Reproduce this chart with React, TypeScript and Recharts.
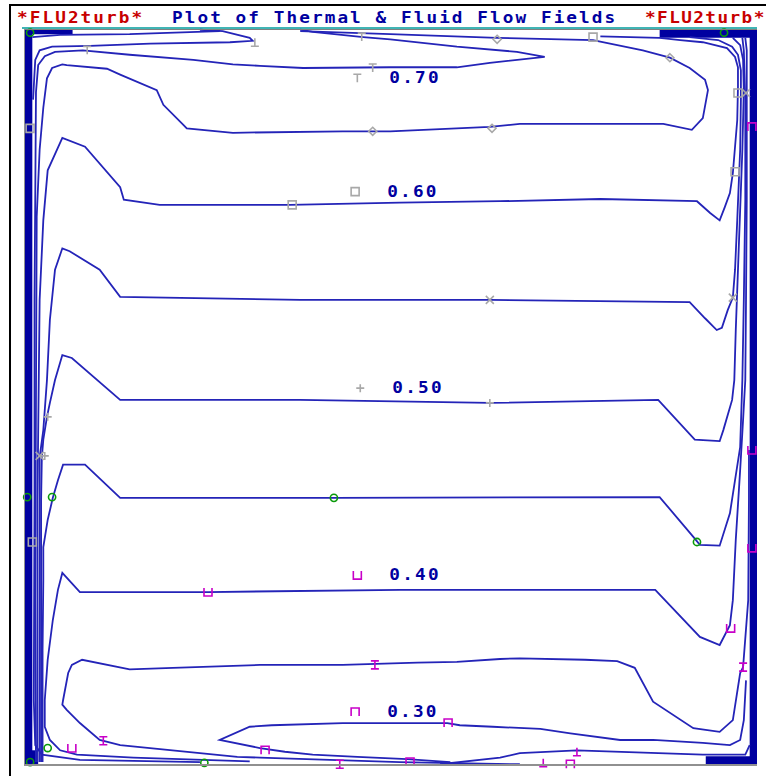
import React from "react";
import { ScatterChart, Scatter, XAxis, YAxis, ReferenceArea } from "recharts";

type Pt = [number, number];

// isotherms, x/y in % of cavity width/height (0,0 = bottom left)
const c75: Pt[] = [[23.9,99.9],[27.0,99.7],[30.7,98.8],[31.1,98.4],[28.0,98.2],[17.1,98.0],[8.9,97.7],[3.7,97.6],[2.0,97.1],[1.4,95.8],[1.1,90.4]];
const c70: Pt[] = [[37.6,99.9],[39.3,99.6],[46.2,98.9],[49.9,98.6],[59.0,97.6],[67.2,96.9],[71.0,96.2],[63.5,95.4],[59.0,94.8],[49.9,94.8],[38.0,94.7],[32.1,95.0],[28.4,95.2],[23.0,95.8],[14.3,96.5],[7.9,97.1],[4.1,96.9],[2.7,96.3],[1.8,95.1],[1.5,91.4],[1.3,63.2],[1.3,36.0],[1.2,8.8],[1.4,2.7],[2.3,1.4],[7.5,0.7],[23.9,0.4]];
const c65: Pt[] = [[1.5,0.4],[1.4,22.4],[1.5,49.6],[1.6,74.5],[2.0,83.6],[2.5,89.3],[3.0,93.3],[3.7,94.7],[5.1,95.2],[5.7,95.1],[11.2,94.6],[13.0,93.8],[18.0,91.7],[18.9,89.7],[21.6,87.0],[22.1,86.5],[28.4,85.9],[43.4,86.1],[49.9,86.1],[63.5,86.7],[67.6,87.1],[87.2,87.1],[91.1,86.3],[92.6,87.9],[93.3,91.7],[92.9,93.1],[90.8,94.7],[88.1,96.1],[84.4,97.1],[77.6,98.5],[64.5,98.8],[49.9,99.3],[37.6,99.7]];
const c60: Pt[] = [[1.7,0.4],[1.7,36.0],[2.0,63.2],[2.5,74.0],[3.1,80.8],[5.1,85.2],[8.2,84.0],[13.0,78.5],[13.5,76.8],[18.4,76.1],[36.2,76.1],[51.2,76.4],[64.9,76.6],[78.6,76.9],[91.8,76.6],[93.6,75.0],[94.9,74.0],[95.6,75.8],[96.3,77.7],[96.7,80.4],[97.3,87.6],[97.4,92.1],[97.4,94.8],[97.0,96.2],[95.9,97.4],[92.6,98.2],[89.5,98.5],[86.7,98.8],[78.6,99.0]];
const c55: Pt[] = [[2.0,0.4],[2.0,22.4],[2.0,41.8],[2.5,45.5],[3.0,52.3],[3.4,60.5],[4.1,67.3],[5.1,70.2],[6.1,69.8],[10.2,67.3],[13.0,63.6],[37.6,63.2],[63.5,63.2],[90.8,62.9],[92.9,60.7],[94.5,59.1],[95.2,59.4],[96.0,61.8],[96.7,63.5],[97.0,67.3],[97.3,74.0],[97.7,83.6],[97.8,90.4],[97.8,94.4],[97.4,96.5],[96.6,97.6],[94.7,98.5],[90.8,98.9]];
const c50: Pt[] = [[2.2,0.4],[2.2,15.6],[2.2,36.0],[2.3,41.8],[2.5,44.2],[3.0,47.3],[3.4,49.2],[4.1,52.3],[5.1,55.7],[6.4,55.3],[13.0,49.6],[37.6,49.6],[63.5,49.2],[86.5,49.6],[91.5,44.2],[94.9,44.0],[95.4,45.5],[96.6,49.6],[96.9,52.3],[97.1,59.1],[97.5,70.0],[98.0,83.6],[98.2,91.7],[98.1,95.8],[97.7,97.8],[96.7,98.8]];
const c45: Pt[] = [[2.4,0.4],[2.4,15.6],[2.5,25.1],[2.5,29.6],[3.1,33.3],[3.8,36.3],[4.5,38.7],[5.2,40.8],[8.2,40.8],[13.0,36.3],[42.2,36.3],[86.7,36.4],[91.3,31.0],[92.2,29.9],[94.9,29.8],[96.3,34.2],[97.0,38.7],[97.7,43.2],[98.0,52.3],[98.2,63.2],[98.4,76.8],[98.4,90.4],[98.2,97.1],[98.0,98.8]];
const c40: Pt[] = [[30.7,0.5],[14.8,1.0],[7.1,1.4],[4.8,2.0],[3.4,3.4],[2.7,5.2],[2.7,8.8],[3.1,14.3],[3.8,19.7],[4.5,23.8],[5.1,26.1],[7.5,23.5],[25.0,23.5],[51.2,23.8],[86.1,23.8],[92.2,17.4],[94.9,16.3],[96.3,19.0],[96.7,22.4],[97.1,30.6],[97.7,40.1],[98.1,46.9],[98.4,52.3],[98.5,63.2],[98.6,76.8],[98.6,90.4],[98.6,97.1],[98.4,98.8]];
const c35: Pt[] = [[67.6,0.1],[51.2,0.4],[32.1,1.0],[29.0,1.1],[13.0,2.7],[10.2,3.4],[7.5,5.7],[5.7,7.5],[5.1,8.2],[5.2,8.8],[5.9,12.5],[6.4,13.6],[7.8,14.3],[14.3,13.0],[20.2,13.2],[32.1,13.6],[43.4,13.6],[53.6,13.9],[59.0,14.0],[64.9,14.4],[67.6,14.5],[76.5,14.3],[80.9,14.1],[83.3,13.2],[85.8,8.6],[91.3,5.0],[94.9,4.5],[96.7,6.1],[97.7,12.5],[98.1,13.3],[98.8,22.4],[98.9,36.0],[98.9,42.8]];
const c30: Pt[] = [[58.1,0.4],[52.2,0.8],[45.4,1.1],[39.3,1.4],[35.5,1.8],[32.1,2.3],[26.6,3.4],[30.7,5.2],[33.7,5.4],[43.4,5.7],[57.7,5.7],[59.4,5.4],[63.9,5.2],[70.4,4.9],[74.5,4.3],[81.3,3.4],[85.8,3.4],[92.6,3.0],[96.3,2.7],[97.7,3.4],[98.2,6.1],[98.5,11.5]];
const c25: Pt[] = [[56.7,0.1],[64.9,1.0],[67.6,1.6],[75.4,2.0],[92.6,1.4],[98.4,1.4],[99.0,2.7]];
const topWall: Pt[] = [[1.0,98.9],[4.8,99.2],[14.3,99.3],[26.6,99.7]];

const contours = [c75, c70, c65, c60, c55, c50, c45, c40, c35, c30, c25, topWall];

// contour markers
const grayT: Pt[] = [[46.0,98.9],[47.5,94.7],[8.5,97.1]];
const grayInvT: Pt[] = [[31.4,98.2]];
const grayDiamond: Pt[] = [[47.5,86.1],[63.8,86.5],[88.1,96.1],[64.5,98.6]];
const graySquare: Pt[] = [[36.5,76.1],[97.0,80.6],[77.6,98.9],[97.4,91.3],[0.7,86.5],[1.0,30.3]];
const grayCross: Pt[] = [[63.5,63.2],[96.7,63.5],[2.0,42.0],[98.5,91.3]];
const grayPlus: Pt[] = [[63.5,49.2],[3.1,47.3],[2.7,42.0]];
const greenCircle: Pt[] = [[42.2,36.3],[3.7,36.4],[91.8,30.3],[0.7,99.5],[95.5,99.5],[3.1,2.3],[24.5,0.3],[0.7,0.4],[0.3,36.4]];
const magCup: Pt[] = [[25.0,23.5],[96.4,18.6],[6.4,2.3],[99.3,42.8],[99.3,29.5]];
const magI: Pt[] = [[47.8,13.6],[10.7,3.3],[98.1,13.3],[43.0,0.1]];
const magCap: Pt[] = [[57.8,5.7],[32.8,2.0],[52.6,0.4],[74.5,0.1],[99.3,86.7]];
const magInvT: Pt[] = [[75.4,1.8],[70.8,0.3]];

// level labels
const labelText = ["0.70", "0.60", "0.50", "0.40", "0.30"];
const labelX = [45.4, 45.1, 45.8, 45.4, 45.1];
const labelY = [93.3, 77.9, 51.2, 25.8, 7.2];
const labelMark = ["T", "sq", "plus", "cup", "cap"];

// steep wall layers drawn solid
const wallBands = [
  { x1: 0, x2: 1.0, y1: 0, y2: 100 },
  { x1: 99.0, x2: 100, y1: 0, y2: 100 },
  { x1: 0, x2: 6.5, y1: 99.3, y2: 100 },
  { x1: 86.7, x2: 100, y1: 98.8, y2: 100 },
  { x1: 93, x2: 100, y1: 0, y2: 1.2 },
  { x1: 0, x2: 1.8, y1: 0, y2: 2.0 },
];

const GRAY = "#a8a8a8";
const GREEN = "#0a9a0a";
const MAG = "#c800c8";
const LINE = "#2424b8";
const NAVY = "#0000a0";

const toPts = (a: Pt[]) => a.map(([x, y]) => ({ x, y }));

const drawMark = (kind: string, color: string, cx: number, cy: number) => {
  const s = 4;
  let d = "";
  switch (kind) {
    case "T": d = `M${cx - s},${cy - s}H${cx + s}M${cx},${cy - s}V${cy + s}`; break;
    case "invT": d = `M${cx - s},${cy + s}H${cx + s}M${cx},${cy + s}V${cy - s}`; break;
    case "sq": d = `M${cx - s},${cy - s}H${cx + s}V${cy + s}H${cx - s}Z`; break;
    case "diamond": d = `M${cx},${cy - s}L${cx + s},${cy}L${cx},${cy + s}L${cx - s},${cy}Z`; break;
    case "x": d = `M${cx - s},${cy - s}L${cx + s},${cy + s}M${cx + s},${cy - s}L${cx - s},${cy + s}`; break;
    case "plus": d = `M${cx - s},${cy}H${cx + s}M${cx},${cy - s}V${cy + s}`; break;
    case "cup": d = `M${cx - s},${cy - s}V${cy + s}H${cx + s}V${cy - s}`; break;
    case "cap": d = `M${cx - s},${cy + s}V${cy - s}H${cx + s}V${cy + s}`; break;
    case "I": d = `M${cx - s},${cy - s}H${cx + s}M${cx},${cy - s}V${cy + s}M${cx - s},${cy + s}H${cx + s}`; break;
  }
  if (kind === "circle") {
    return <circle cx={cx} cy={cy} r={3.6} fill="none" stroke={color} strokeWidth={1.6} />;
  }
  return <path d={d} fill="none" stroke={color} strokeWidth={1.6} />;
};

const marker = (kind: string, color: string) => (p: any) =>
  p.cx == null ? <g /> : drawMark(kind, color, p.cx, p.cy);

const noDot = () => <g />;

const levelLabel = (p: any) => {
  if (p.cx == null) return <g />;
  const kind = p.payload.mark;
  const color = kind === "cup" || kind === "cap" ? MAG : GRAY;
  return (
    <g>
      {drawMark(kind, color, p.cx, p.cy)}
      <text
        transform={`translate(${p.cx + 32},${p.cy}) scale(1.18,1)`}
        x={0}
        y={0}
        dominantBaseline="central"
        fill={NAVY}
        fontFamily="DejaVu Sans Mono"
        fontWeight="bold"
        fontSize={15}
        letterSpacing={1.9}
      >
        {p.payload.label}
      </text>
    </g>
  );
};

const labels = labelText.map((label, i) => ({ x: labelX[i], y: labelY[i], label, mark: labelMark[i] }));

const markerSets: [Pt[], string, string][] = [
  [grayT, "T", GRAY],
  [grayInvT, "invT", GRAY],
  [grayDiamond, "diamond", GRAY],
  [graySquare, "sq", GRAY],
  [grayCross, "x", GRAY],
  [grayPlus, "plus", GRAY],
  [greenCircle, "circle", GREEN],
  [magCup, "cup", MAG],
  [magI, "I", MAG],
  [magCap, "cap", MAG],
  [magInvT, "invT", MAG],
];

const titleFont: React.CSSProperties = {
  position: "absolute",
  top: 9,
  fontFamily: "DejaVu Sans Mono",
  fontWeight: "bold",
  fontSize: 15,
  letterSpacing: 1.75,
  whiteSpace: "nowrap",
  lineHeight: "18px",
  transform: "scaleX(1.18)",
  transformOrigin: "0 0",
};

export default function App() {
  return (
    <div style={{ position: "absolute", left: 0, top: 0, width: 766, height: 776, background: "#fff", overflow: "hidden" }}>
      <div style={{ ...titleFont, left: 17, color: "#c80000" }}>*FLU2turb*</div>
      <div style={{ ...titleFont, left: 172, color: NAVY }}>Plot of Thermal &amp; Fluid Flow Fields</div>
      <div style={{ ...titleFont, left: 645, color: "#c80000", letterSpacing: 1.2 }}>*FLU2turb*</div>

      <div style={{ position: "absolute", left: 9, top: 4, width: 757, height: 2, background: "#000" }} />
      <div style={{ position: "absolute", left: 9, top: 4, width: 2, height: 772, background: "#000" }} />
      <div style={{ position: "absolute", left: 22, top: 27, width: 735, height: 2, background: "#40b4b4" }} />

      <div style={{ position: "absolute", left: 0, top: 0 }}>
        <ScatterChart width={766} height={776} margin={{ top: 29, right: 9, bottom: 11, left: 25 }}>
          <XAxis type="number" dataKey="x" domain={[0, 100]} hide />
          <YAxis type="number" dataKey="y" domain={[0, 100]} hide />
          {wallBands.map((b, i) => (
            <ReferenceArea key={`band-${i}`} {...b} fill={NAVY} fillOpacity={1} stroke="none" />
          ))}
          {contours.map((c, i) => (
            <Scatter
              key={`c-${i}`}
              data={toPts(c)}
              fill={LINE}
              line={{ stroke: LINE, strokeWidth: 1.8 }}
              lineType="joint"
              shape={noDot}
              isAnimationActive={false}
            />
          ))}
          {markerSets.map(([pts, kind, color], i) => (
            <Scatter key={`m-${i}`} data={toPts(pts)} fill={color} shape={marker(kind, color)} isAnimationActive={false} />
          ))}
          <Scatter data={labels} fill={NAVY} shape={levelLabel} isAnimationActive={false} />
        </ScatterChart>
      </div>

      <div style={{ position: "absolute", left: 24, top: 29, width: 1, height: 737, background: "#909090" }} />
      <div style={{ position: "absolute", left: 25, top: 29, width: 732, height: 1, background: "#808080" }} />
      <div style={{ position: "absolute", left: 25, top: 764, width: 732, height: 2, background: "#909090" }} />
    </div>
  );
}
